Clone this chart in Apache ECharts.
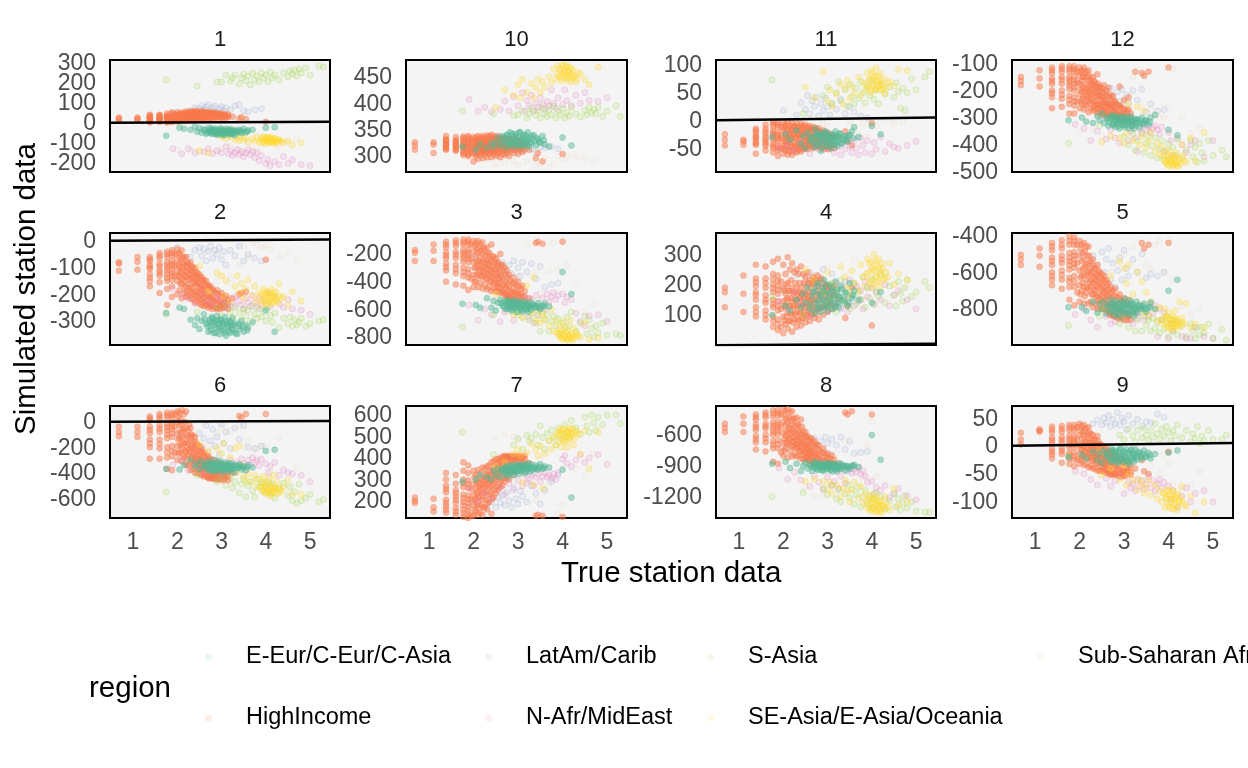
<!DOCTYPE html>
<html><head><meta charset="utf-8">
<style>html,body{margin:0;padding:0;background:#fff;overflow:hidden}#c{width:1248px;height:768px}</style>
<script src="https://cdn.jsdelivr.net/npm/echarts@6/dist/echarts.min.js"></script>
</head><body><div id="c"></div>
<script>
// x values: the true station value is the same in every panel
const xHigh=[.68,.68,.68,1.1,1.1,1.1,1.38,1.38,1.38,1.38,1.38,1.38,1.38,1.6,1.6,1.6,1.6,1.6,1.6,1.6,1.77,1.77,1.77,1.77,1.77,1.77,1.77,1.77,1.88,1.88,1.88,1.88,1.88,1.88,1.88,1.88,
2,2,2,2,2,2.05,2.05,2.05,2.05,2.1,2.1,2.1,2.1,2.1,2.15,2.15,2.15,2.15,2.2,2.2,2.2,2.2,2.2,2.25,2.25,2.25,2.25,2.3,2.3,2.3,2.3,2.3,2.35,2.35,2.35,2.35,2.4,2.4,2.4,2.4,2.4,2.45,2.45,2.45,2.45,
2.5,2.5,2.5,2.5,2.55,2.55,2.55,2.55,2.6,2.6,2.6,2.6,2.65,2.65,2.65,2.7,2.7,2.7,2.75,2.75,2.75,2.8,2.8,2.8,2.9,2.9,2.9,3,3,3.1,3.1,3.25,3.4,3.45,3.55,4,
1.38,1.38,1.38,1.6,1.6,1.6,1.77,1.77,1.77,1.77,1.88,1.88,1.88,1.88,
1.95,1.95,1.95,2.02,2.02,2.02,2.07,2.07,2.07,2.12,2.12,2.12,2.17,2.17,2.17,2.22,2.22,2.22,2.27,2.27,2.27,2.32,2.32,2.32,2.37,2.37,2.37,2.42,2.42,2.42,2.47,2.47,2.47,2.52,2.52,2.52,2.57,2.57,2.57,2.62,2.62,2.62,2.67,2.67,2.67,2.72,2.72,2.72,2.77,2.77,2.77,2.82,2.82,2.82,2.87,2.87,2.87,2.92,2.92,2.92,2.97,2.97,2.97,3.02,3.02,3.02,3.07,3.07,3.07,3.15,3.15,3.15];
const xEEur=[1.75,2.05,2.15,2.3,2.4,2.45,2.5,2.55,2.6,2.65,2.7,2.72,2.75,2.78,2.8,2.82,2.85,2.88,2.9,2.92,2.95,2.98,3,3.02,3.05,3.08,3.1,3.12,3.15,3.18,3.2,3.22,3.25,3.28,3.3,3.35,3.4,3.45,3.5,3.55,3.6,3.7,4,4.2,
2.62,2.68,2.74,2.76,2.8,2.84,2.87,2.9,2.94,2.97,3,3.03,3.07,3.1,3.14,3.17,3.2,3.24,3.27,3.32,3.38,3.42,3.48,3.58];
const xLat=[2,2.3,2.4,2.5,2.55,2.6,2.65,2.7,2.75,2.8,2.85,2.9,2.95,3,3.05,3.1,3.2,3.3,3.4,3.5,3.6,3.75,3.9];
const xMid=[1.9,2.1,2.25,2.4,2.6,2.7,2.8,2.9,3,3.1,3.15,3.2,3.25,3.3,3.35,3.4,3.45,3.5,3.55,3.6,3.65,3.7,3.75,3.8,3.85,3.9,4,4.05,4.1,4.2,4.3,4.4,4.5,4.6,4.8,5];
const xS=[1.75,2.45,2.9,3,3.1,3.2,3.25,3.3,3.4,3.45,3.5,3.55,3.6,3.65,3.7,3.75,3.8,3.85,3.9,3.95,4,4.05,4.1,4.15,4.2,4.3,4.4,4.5,4.55,4.6,4.65,4.7,4.75,4.8,4.9,5,5.2,5.3];
const xSea=[2.5,2.7,2.9,3,3.05,3.1,3.2,3.3,3.35,3.4,3.45,3.5,3.55,3.6,3.7,3.75,3.8,3.85,3.9,3.92,3.95,3.98,4,4.02,4.05,4.08,4.1,4.12,4.15,4.18,4.2,4.25,4.3,4.4,4.5,4.6,4.8,
3.88,3.94,3.97,4,4.03,4.06,4.09,4.11,4.14,4.16,4.19,4.22,4.24,4.27,4.32,4.36];
const xSub=[2,2.3,2.5,2.7,2.9,3,3.2,3.4,3.5,3.6,3.7,3.8,3.9,4,4.1,4.3,4.5,4.7];

// panel 1
const high1=[12,20,26,14,20,26,2,8,14,20,26,32,40,4,10,16,22,28,34,40,2,8,14,20,28,36,46,30,4,10,16,22,30,38,46,52,6,16,26,36,50,10,20,32,44,8,18,28,38,52,12,22,34,48,10,20,30,42,56,14,26,38,52,12,22,32,44,58,16,28,40,54,14,24,34,46,60,18,30,42,56,16,28,40,54,20,32,44,58,18,30,42,54,22,36,50,20,34,48,24,38,50,22,36,48,24,34,46,20,40,24,38,30,20,28,18,5,
11,23,35,13,25,37,5,17,24,32,7,19,26,34,14,28,42,12,26,40,15,28,42,13,25,44,17,30,44,15,28,48,19,33,46,17,30,50,21,35,48,19,32,52,23,36,50,21,35,48,25,38,52,24,37,50,27,40,53,26,40,50,28,42,52,28,40,50,28,38,48,29,40,46,28,38,44,26,34,46,28,36,42,28,34,42];
const eeur1=[-65,-25,-30,-35,-20,-45,-28,-50,-32,-55,-38,-25,-48,-30,-55,-40,-30,-50,-35,-60,-42,-28,-52,-35,-62,-44,-30,-52,-38,-60,-46,-32,-54,-40,-62,-48,-35,-52,-30,-48,-38,-35,-25,-22,
-38,-50,-42,-54,-36,-48,-58,-42,-52,-38,-46,-60,-40,-50,-44,-34,-54,-42,-50,-38,-46,-40,-44,-42];
const lat1=[55,60,75,70,85,65,80,90,60,75,85,55,70,80,60,75,65,85,90,60,55,65,70];
const mid1=[-130,-155,-130,-150,-145,-130,-155,-140,-150,-120,-155,-140,-165,-150,-135,-160,-145,-170,-150,-135,-160,-145,-175,-150,-190,-165,-205,-185,-215,-195,-210,-170,-205,-185,-210,-215];
const s1=[215,185,205,205,240,210,225,240,195,225,245,210,235,190,250,215,235,205,250,225,240,205,255,225,240,215,250,230,260,245,265,235,270,250,275,240,285,280];
const sea1=[-140,-150,-60,-70,-65,-80,-70,-85,-75,-90,-70,-85,-75,-95,-80,-90,-70,-100,-80,-95,-70,-105,-85,-75,-100,-90,-70,-95,-85,-105,-78,-95,-85,-100,-90,-110,-100,
-85,-75,-95,-80,-90,-72,-100,-85,-78,-95,-88,-80,-100,-90,-88,-95];
const sub1=[-135,-140,-145,-150,-140,-130,-120,-135,-150,-100,-125,-140,-110,-90,-80,-120,-100,-80];
// panel 10
const high10=[312,320,326,306,322,326,312,316,320,324,328,332,338,310,314,318,322,326,330,336,302,308,313,318,322,326,331,337,300,306,312,317,322,327,332,338,290,305,315,325,336,300,312,322,334,295,306,316,326,338,302,314,324,335,296,307,316,326,338,303,313,324,335,298,308,317,327,339,304,315,325,337,298,308,318,328,340,304,315,326,338,300,312,323,336,304,316,326,338,298,310,322,334,304,318,332,302,316,330,306,320,332,300,316,330,306,318,330,304,322,308,320,312,296,306,290,304,
314,322,330,312,320,328,305,316,324,334,303,314,325,335,308,320,332,310,320,330,306,318,328,310,321,332,308,319,330,311,321,332,308,318,330,312,322,333,309,320,331,312,323,334,309,320,332,312,322,332,308,320,331,314,324,334,310,322,330,311,323,334,312,322,330,310,322,332,312,324,332,312,322,328,314,324,332,312,318,328,314,322,330,312,318,326];
const eeur10=[318,312,322,316,325,318,326,335,320,338,328,316,340,322,332,345,325,318,338,328,342,320,335,325,345,318,332,340,322,336,328,345,318,335,325,340,320,332,325,338,322,318,335,320,
325,335,328,340,322,332,342,326,336,320,330,345,322,334,326,340,320,332,326,338,328,334,326,330];
const lat10=[305,312,320,308,325,315,310,322,306,318,326,312,320,308,316,310,322,314,306,318,316,318,314];
const mid10=[407,385,392,384,388,404,385,412,395,420,385,405,395,415,385,400,392,410,398,388,403,395,425,400,390,410,397,425,405,395,415,400,420,405,403,410];
const s10=[385,380,376,378,385,372,380,390,378,385,372,392,380,375,388,378,395,372,385,378,390,372,382,376,392,380,374,386,378,392,382,388,380,392,375,385,395,375];
const sea10=[392,425,415,435,410,445,420,437,410,430,445,420,440,430,450,438,465,445,470,450,460,442,472,455,462,445,468,452,460,440,465,450,440,455,445,435,468,
455,465,448,470,458,450,472,460,445,468,455,448,462,452,445,458];
const sub10=[298,295,285,288,290,284,290,282,285,295,280,285,300,295,300,298,298,290];
// panel 11
const high11=[-25,-35,-45,-35,-38,-44,-15,-22,-28,-33,-38,-44,-60,-8,-15,-24,-30,-38,-46,-54,-2,-10,-18,-26,-34,-42,-50,-58,-4,-12,-22,-30,-38,-46,-54,-64,-5,-18,-32,-46,-60,-8,-24,-38,-54,-3,-16,-30,-44,-62,-10,-26,-40,-56,-5,-18,-32,-46,-62,-10,-24,-40,-56,-6,-18,-30,-44,-58,-12,-26,-40,-54,-6,-18,-30,-42,-56,-10,-24,-38,-52,-8,-22,-36,-50,-12,-26,-38,-52,-10,-24,-36,-46,-14,-30,-46,-12,-28,-44,-16,-30,-42,-14,-28,-44,-18,-32,-46,-22,-40,-26,-44,-30,-20,-38,-45,-5,
-18,-30,-42,-20,-34,-42,-6,-22,-30,-46,-8,-26,-34,-50,-12,-28,-50,-14,-38,-52,-10,-30,-46,-22,-36,-54,-16,-32,-48,-12,-26,-52,-16,-32,-48,-12,-24,-50,-18,-34,-48,-12,-24,-48,-16,-30,-44,-14,-28,-44,-18,-32,-46,-16,-30,-42,-20,-36,-50,-18,-34,-48,-22,-36,-46,-20,-34,-48,-24,-38,-50,-22,-38,-52,-26,-36,-48,-28,-42,-52,-30,-40,-50,-30,-42,-50];
const eeur11=[-30,-25,-35,-18,-42,-28,-50,-22,-38,-32,-48,-15,-28,-44,-22,-36,-55,-26,-40,-32,-20,-46,-30,-38,-24,-50,-34,-28,-42,-20,-36,-46,-30,-24,-40,-34,-28,-38,-26,-20,-12,-30,-10,-25,
-30,-38,-24,-42,-30,-26,-48,-34,-22,-40,-28,-46,-32,-38,-26,-44,-30,-36,-24,-42,-30,-36,-28,-32];
const lat11=[18,10,32,20,45,12,35,25,42,8,30,18,40,25,10,30,20,38,12,25,15,8,5];
const mid11=[-50,-45,-55,-40,-60,-45,-52,-38,-50,-42,-58,-35,-48,-62,-40,-52,-30,-46,-58,-36,-50,-62,-32,-45,-58,-36,-60,-40,-52,-30,-56,-42,-48,-50,-45,-38];
const s11=[73,12,45,60,30,50,70,35,55,25,65,42,30,58,40,70,50,32,60,45,72,38,55,30,65,48,60,42,68,52,22,58,18,50,75,55,78,88];
const sea11=[60,40,88,35,55,25,48,65,30,58,72,40,62,50,78,45,68,55,85,60,72,50,90,65,78,55,95,68,80,55,72,60,48,70,62,92,90,
65,75,55,85,60,72,80,58,70,62,85,65,55,75,60,68];
const sub11=[-40,-48,-35,-20,-5,-10,-30,-20,-2,-15,-25,-5,-30,-2,-10,0,-5,-2];
// panel 12
const high12=[-150,-165,-180,-125,-155,-185,-115,-135,-155,-175,-200,-225,-265,-110,-130,-150,-175,-200,-230,-260,-110,-130,-150,-170,-195,-220,-250,-285,-110,-130,-150,-175,-200,-225,-255,-285,-115,-145,-175,-215,-265,-125,-165,-205,-250,-115,-150,-190,-225,-270,-130,-175,-215,-255,-125,-165,-205,-240,-280,-160,-195,-230,-265,-150,-180,-210,-240,-275,-170,-205,-240,-270,-140,-190,-220,-250,-285,-185,-220,-250,-280,-190,-225,-255,-290,-180,-225,-260,-285,-200,-240,-265,-295,-190,-250,-290,-215,-255,-295,-220,-260,-295,-240,-270,-300,-185,-255,-290,-235,-285,-225,-270,-130,-135,-145,-130,-115,
-125,-165,-210,-120,-160,-215,-120,-160,-182,-235,-120,-162,-188,-240,-130,-170,-240,-130,-195,-240,-150,-185,-230,-135,-205,-250,-150,-195,-235,-145,-185,-220,-175,-215,-250,-165,-195,-260,-185,-225,-255,-175,-205,-265,-200,-235,-265,-205,-240,-275,-210,-245,-275,-220,-250,-280,-225,-260,-285,-235,-265,-285,-240,-275,-290,-250,-280,-295,-255,-280,-300,-260,-285,-305,-265,-290,-305,-270,-295,-310,-275,-295,-310,-285,-300,-315];
const eeur12=[-310,-300,-315,-320,-295,-310,-285,-320,-300,-330,-305,-290,-325,-310,-335,-295,-320,-305,-340,-310,-295,-325,-315,-335,-300,-320,-340,-310,-295,-330,-315,-340,-305,-325,-310,-335,-300,-320,-310,-325,-300,-290,-345,-365,
-305,-318,-298,-325,-310,-300,-330,-315,-302,-328,-312,-300,-325,-315,-305,-330,-312,-322,-306,-318,-310,-324,-312,-316];
const lat12=[-165,-180,-210,-190,-235,-200,-255,-190,-225,-260,-205,-240,-195,-270,-215,-245,-200,-235,-195,-280,-250,-275,-270];
const mid12=[-325,-340,-385,-350,-380,-345,-375,-395,-325,-385,-350,-330,-375,-425,-340,-360,-325,-345,-335,-355,-340,-330,-345,-360,-335,-425,-355,-385,-440,-375,-400,-430,-400,-385,-445,-385];
const s12=[-395,-330,-320,-370,-400,-360,-420,-385,-355,-430,-395,-370,-440,-405,-375,-450,-415,-385,-455,-420,-395,-460,-410,-440,-380,-450,-420,-385,-445,-410,-465,-395,-430,-460,-385,-440,-420,-445];
const sea12=[-390,-370,-375,-395,-360,-250,-385,-260,-400,-370,-275,-410,-385,-355,-425,-395,-440,-410,-460,-430,-470,-445,-475,-420,-465,-440,-478,-450,-470,-430,-478,-455,-400,-465,-375,-460,-355,
-440,-465,-450,-478,-455,-440,-470,-460,-478,-445,-465,-478,-450,-470,-440,-460];
const sub12=[-350,-340,-370,-365,-280,-240,-150,-260,-350,-270,-290,-300,-300,-260,-120,-300,-360,-340];
// panel 2
const high2=[-80,-85,-112,-60,-78,-108,-60,-75,-90,-105,-125,-150,-170,-45,-65,-85,-110,-130,-155,-195,-40,-60,-80,-100,-125,-150,-180,-240,-35,-55,-75,-95,-120,-145,-170,-210,-30,-70,-110,-150,-200,-45,-95,-135,-185,-35,-80,-120,-160,-215,-60,-110,-150,-195,-60,-95,-135,-170,-210,-85,-125,-160,-205,-80,-110,-140,-175,-215,-100,-140,-175,-220,-100,-130,-160,-190,-230,-120,-155,-190,-225,-125,-160,-195,-235,-135,-170,-200,-240,-145,-180,-210,-245,-150,-195,-240,-165,-205,-250,-170,-210,-245,-180,-215,-255,-185,-220,-255,-195,-240,-205,-240,-215,-200,-195,-190,-70,
-68,-98,-138,-55,-95,-120,-50,-90,-112,-138,-45,-85,-108,-132,-50,-90,-130,-50,-90,-130,-70,-115,-160,-60,-100,-140,-85,-130,-175,-80,-115,-190,-105,-145,-185,-95,-125,-195,-120,-155,-200,-115,-145,-205,-135,-170,-210,-140,-178,-215,-150,-185,-220,-160,-195,-230,-170,-205,-225,-175,-210,-235,-185,-220,-240,-190,-225,-245,-195,-225,-250,-200,-235,-250,-205,-230,-255,-210,-235,-250,-215,-230,-250,-220,-235,-255];
const eeur2=[-270,-250,-255,-295,-315,-290,-330,-300,-275,-310,-340,-295,-320,-285,-305,-345,-300,-325,-280,-310,-350,-295,-320,-305,-335,-285,-355,-310,-325,-300,-345,-315,-290,-335,-310,-350,-320,-300,-340,-315,-325,-305,-260,-340,
-295,-320,-305,-335,-290,-315,-345,-300,-325,-295,-335,-310,-345,-300,-320,-340,-305,-330,-315,-345,-310,-330,-320,-335];
const lat2=[-25,-60,-35,-25,-55,-30,-75,-40,-20,-65,-35,-50,-25,-70,-40,-90,-35,-55,-20,-75,-50,-65,-75];
const mid2=[-180,-200,-215,-235,-200,-225,-240,-210,-220,-235,-250,-215,-230,-245,-205,-225,-240,-255,-215,-230,-245,-205,-230,-250,-215,-240,-225,-195,-245,-210,-235,-250,-220,-255,-260,-275];
const s2=[-275,-265,-250,-280,-240,-265,-285,-250,-270,-295,-255,-280,-260,-300,-245,-275,-290,-255,-285,-265,-300,-250,-280,-305,-270,-325,-290,-310,-285,-320,-295,-315,-305,-290,-320,-310,-300,-295];
const sea2=[-95,-190,-120,-130,-205,-150,-225,-170,-130,-195,-160,-215,-180,-145,-205,-170,-225,-195,-235,-205,-180,-220,-200,-240,-190,-225,-205,-180,-235,-210,-195,-225,-160,-210,-240,-190,-225,
-205,-225,-190,-215,-235,-200,-220,-195,-230,-205,-220,-190,-215,-230,-205,-215];
const sub2=[-120,-160,-180,-195,-150,-130,-140,-90,-20,-60,-5,-15,-25,-20,-30,-60,-45,-70];
// panel 3
const high3=[-170,-190,-250,-130,-175,-250,-110,-150,-190,-230,-270,-320,-400,-100,-140,-185,-230,-280,-340,-420,-95,-130,-170,-210,-255,-300,-360,-430,-95,-130,-170,-210,-260,-310,-370,-460,-105,-180,-260,-350,-440,-120,-210,-300,-400,-105,-190,-280,-360,-440,-125,-230,-320,-410,-115,-200,-290,-360,-450,-160,-260,-340,-420,-150,-240,-310,-380,-455,-190,-280,-360,-440,-130,-250,-330,-400,-470,-220,-310,-380,-450,-230,-310,-400,-470,-260,-340,-410,-475,-200,-320,-400,-480,-280,-380,-470,-300,-400,-490,-320,-420,-500,-350,-430,-510,-370,-450,-500,-400,-480,-430,-510,-520,-120,-110,-125,-110,
-130,-210,-295,-120,-205,-310,-115,-190,-230,-330,-110,-190,-235,-340,-130,-230,-380,-140,-300,-400,-165,-255,-350,-150,-250,-320,-180,-275,-365,-160,-245,-325,-210,-300,-380,-195,-275,-345,-235,-320,-400,-215,-290,-365,-265,-345,-415,-270,-355,-435,-300,-375,-440,-280,-360,-440,-330,-425,-480,-350,-445,-500,-370,-460,-510,-390,-470,-520,-410,-475,-520,-410,-480,-530,-430,-490,-530,-440,-500,-540,-450,-490,-530,-470,-510,-540];
const eeur3=[-560,-570,-590,-520,-590,-540,-610,-555,-530,-575,-540,-600,-560,-535,-585,-550,-610,-565,-535,-590,-555,-620,-570,-540,-595,-560,-615,-575,-545,-600,-565,-620,-580,-550,-605,-570,-590,-555,-600,-575,-560,-580,-330,-490,
-555,-580,-545,-595,-560,-580,-600,-550,-575,-590,-555,-585,-605,-565,-585,-560,-600,-575,-590,-565,-585,-575,-590,-580];
const lat3=[-220,-270,-320,-240,-290,-360,-260,-320,-380,-280,-340,-250,-400,-300,-360,-260,-330,-270,-380,-290,-440,-420,-410];
const mid3=[-570,-680,-600,-640,-690,-620,-590,-680,-540,-620,-510,-560,-660,-530,-700,-500,-640,-580,-520,-600,-490,-545,-510,-480,-530,-500,-490,-550,-510,-530,-630,-690,-720,-650,-640,-690];
const s3=[-730,-640,-620,-640,-660,-600,-680,-630,-700,-650,-760,-620,-680,-640,-760,-690,-650,-720,-670,-780,-700,-740,-660,-720,-620,-760,-700,-650,-780,-680,-740,-800,-720,-770,-700,-790,-780,-790];
const sea3=[-490,-540,-640,-620,-590,-660,-430,-630,-370,-680,-610,-700,-640,-670,-720,-600,-760,-680,-780,-720,-800,-750,-810,-690,-790,-730,-820,-760,-800,-680,-810,-740,-770,-800,-700,-820,-810,
-770,-800,-760,-820,-785,-805,-770,-825,-790,-810,-780,-825,-795,-810,-785,-800];
const sub3=[-430,-470,-520,-620,-450,-360,-130,-330,-490,-550,-320,-120,-320,-105,-280,-420,-620,-560];
// panel 4
const high4=[125,175,190,110,170,230,95,125,150,175,195,220,265,85,115,140,165,190,220,260,60,95,125,150,175,200,235,275,50,85,115,145,170,195,230,285,40,95,145,190,265,70,125,170,235,55,110,155,205,290,80,130,180,250,45,100,145,190,270,85,130,175,240,60,110,150,190,250,80,130,175,235,65,110,150,190,260,90,135,175,235,75,125,170,225,95,135,175,240,80,125,165,215,100,150,205,90,140,200,105,150,210,85,150,195,100,150,205,110,180,120,175,150,90,130,190,65,
110,165,208,100,150,205,80,135,188,218,70,130,182,212,60,120,210,80,130,180,95,150,200,80,130,180,105,155,215,75,125,170,105,150,205,85,130,170,105,155,205,90,130,170,110,155,205,100,150,195,115,155,205,105,145,190,125,175,225,115,165,215,125,180,230,120,170,215,125,170,220,130,175,190,125,160,195,135,155,195,140,160,190,130,165,195];
const eeur4=[100,130,115,150,125,170,140,190,120,160,105,180,140,205,125,165,110,190,145,215,130,175,115,155,200,135,180,120,165,210,140,185,125,160,195,145,175,130,205,155,180,150,140,175,
135,175,120,195,145,165,125,180,150,200,130,170,145,190,155,125,175,140,160,185,150,170,140,165];
const lat4=[185,230,165,215,130,240,155,205,120,225,170,250,135,195,150,235,180,125,210,160,200,150,190];
const mid4=[145,120,175,140,95,175,120,155,110,180,135,205,155,120,190,150,110,215,165,130,195,145,180,120,210,160,190,135,175,150,200,130,165,180,150,120];
const s4=[160,100,170,130,195,110,160,215,140,185,120,165,205,135,175,150,225,125,190,155,215,135,180,160,235,140,195,165,130,210,170,145,190,215,160,175,210,190];
const sea4=[250,215,175,240,155,205,180,260,150,225,190,165,245,205,180,265,225,195,285,240,210,275,190,250,300,225,265,205,285,240,190,255,220,270,200,235,215,
235,270,215,255,200,245,280,225,260,210,250,230,270,215,240,225];
const sub4=[215,170,130,230,175,260,140,215,165,280,190,150,230,240,170,240,200,190];
// panel 5
const high5=[-505,-530,-560,-470,-510,-570,-440,-480,-520,-560,-600,-640,-670,-425,-470,-510,-550,-590,-640,-690,-405,-450,-495,-540,-585,-630,-680,-750,-410,-450,-490,-530,-575,-620,-680,-780,-430,-510,-590,-670,-760,-450,-540,-620,-700,-440,-530,-610,-680,-770,-460,-560,-640,-710,-460,-550,-620,-690,-770,-540,-610,-680,-760,-530,-600,-660,-720,-790,-580,-640,-700,-770,-560,-620,-680,-730,-800,-600,-660,-720,-790,-610,-670,-730,-800,-620,-680,-740,-800,-640,-700,-750,-810,-660,-730,-810,-680,-740,-820,-700,-760,-820,-690,-770,-830,-720,-780,-830,-740,-830,-750,-840,-820,-440,-470,-450,-440,
-460,-540,-620,-450,-530,-615,-430,-520,-560,-650,-430,-510,-555,-650,-450,-550,-710,-470,-630,-720,-495,-580,-660,-485,-570,-730,-510,-600,-680,-510,-590,-655,-575,-645,-720,-565,-630,-695,-610,-670,-735,-590,-650,-755,-630,-690,-755,-640,-700,-765,-650,-710,-770,-670,-725,-780,-695,-770,-830,-710,-780,-835,-730,-790,-840,-730,-800,-845,-740,-800,-850,-750,-805,-855,-760,-810,-850,-770,-820,-860,-780,-830,-860,-790,-830,-860];
const eeur5=[-790,-790,-810,-760,-820,-770,-800,-760,-825,-780,-750,-810,-770,-835,-790,-755,-815,-775,-840,-795,-760,-820,-780,-745,-805,-770,-830,-785,-755,-815,-775,-840,-795,-760,-820,-785,-800,-770,-815,-790,-765,-800,-700,-640,
-785,-800,-770,-815,-780,-800,-825,-770,-790,-810,-775,-800,-825,-780,-800,-770,-815,-790,-805,-780,-795,-785,-800,-790];
const lat5=[-500,-510,-560,-490,-600,-530,-470,-640,-550,-680,-590,-520,-640,-480,-580,-620,-530,-600,-500,-630,-610,-620,-600];
const mid5=[-830,-800,-860,-900,-840,-880,-870,-800,-860,-830,-780,-880,-800,-850,-820,-780,-860,-800,-840,-770,-820,-780,-950,-800,-860,-820,-960,-880,-920,-870,-950,-960,-960,-900,-950,-960];
const s5=[-890,-840,-880,-850,-900,-830,-920,-860,-920,-840,-890,-860,-920,-850,-905,-870,-930,-860,-910,-840,-950,-880,-920,-860,-940,-890,-950,-880,-920,-960,-900,-940,-900,-930,-880,-960,-910,-970];
const sea5=[-800,-620,-540,-580,-660,-560,-720,-600,-780,-650,-820,-710,-830,-760,-800,-860,-790,-880,-840,-800,-900,-850,-880,-820,-910,-860,-840,-895,-810,-870,-900,-760,-850,-770,-900,-880,-900,
-860,-880,-840,-900,-855,-885,-865,-905,-850,-880,-890,-860,-875,-895,-870,-880];
const sub5=[-640,-720,-760,-600,-550,-500,-460,-440,-560,-580,-450,-430,-600,-420,-640,-780,-830,-800];
// panel 6
const high6=[-40,-80,-115,-40,-80,-120,40,10,-40,-90,-140,-200,-290,60,20,-30,-80,-140,-210,-290,70,30,-20,-70,-130,-200,-280,-370,70,30,-10,-60,-120,-190,-270,-380,80,0,-90,-190,-300,70,-30,-130,-240,90,-20,-120,-210,-310,60,-60,-170,-280,80,-50,-160,-240,-340,-70,-170,-260,-340,-50,-150,-240,-320,-380,-110,-210,-290,-370,-120,-200,-280,-340,-400,-180,-260,-330,-400,-190,-270,-340,-410,-210,-290,-350,-420,-240,-310,-370,-430,-260,-340,-420,-270,-350,-440,-290,-360,-430,-300,-380,-440,-310,-390,-440,-330,-430,-340,-430,-400,45,30,60,60,
25,-65,-170,40,-55,-175,50,-45,-100,-240,50,-35,-90,-230,60,-40,-240,40,-140,-250,20,-80,-185,-70,-165,-260,0,-115,-225,-105,-200,-290,-20,-120,-215,-100,-195,-280,-160,-250,-330,-160,-240,-310,-220,-295,-365,-230,-305,-375,-250,-320,-385,-275,-340,-400,-300,-380,-430,-310,-385,-445,-325,-395,-440,-340,-410,-450,-350,-415,-450,-350,-420,-455,-370,-420,-450,-380,-430,-460,-390,-425,-450,-395,-430,-460];
const eeur6=[-370,-375,-340,-300,-350,-320,-370,-310,-350,-330,-380,-310,-360,-330,-390,-340,-300,-370,-325,-385,-345,-310,-365,-335,-395,-350,-320,-375,-340,-385,-355,-325,-370,-345,-395,-360,-335,-375,-350,-380,-340,-360,-230,-220,
-345,-365,-330,-380,-340,-360,-385,-325,-350,-375,-330,-360,-380,-340,-365,-330,-375,-350,-365,-340,-360,-345,-360,-355];
const lat6=[-100,-120,-180,-90,-200,-130,-30,-240,-150,-60,-190,-120,-260,-20,-170,-80,-210,-50,-140,-30,-200,-210,-190];
const mid6=[-340,-300,-380,-340,-400,-310,-380,-350,-420,-330,-380,-300,-350,-400,-320,-360,-290,-330,-380,-300,-340,-285,-320,-300,-345,-295,-330,-400,-350,-320,-420,-380,-400,-410,-420,-470];
const s6=[-550,-420,-470,-440,-500,-430,-520,-470,-560,-490,-450,-590,-500,-470,-540,-590,-450,-510,-480,-550,-510,-470,-560,-490,-600,-520,-480,-580,-510,-620,-550,-640,-490,-620,-600,-570,-630,-610];
const sea6=[-180,-230,-210,-250,-170,-380,-280,-210,-400,-190,-340,-430,-470,-410,-470,-420,-510,-450,-540,-470,-430,-520,-560,-480,-540,-450,-580,-500,-550,-420,-520,-470,-560,-510,-460,-570,-570,
-510,-535,-490,-560,-520,-545,-500,-570,-525,-550,-510,-540,-565,-520,-530,-545];
const sub6=[-200,-120,-300,-180,-90,-50,-70,-40,-200,-150,-240,-210,-190,-200,-400,-130,-520,-360];
// panel 7
const high7=[190,200,215,150,170,210,145,175,205,240,270,300,330,135,165,190,220,250,280,320,125,160,195,230,265,300,340,380,120,155,190,225,260,295,330,365,130,180,230,280,340,150,210,260,320,135,190,240,285,345,145,220,275,330,135,205,260,300,355,170,240,295,350,160,225,280,320,360,195,265,315,365,140,240,295,340,380,215,280,330,385,235,295,345,395,250,310,355,395,265,320,365,400,270,340,405,290,350,410,305,360,405,300,365,410,320,375,405,340,400,350,400,375,130,135,130,125,
160,190,255,150,205,235,142,178,212,282,138,172,208,278,130,205,255,155,205,310,180,235,290,165,215,265,180,250,305,170,235,280,205,270,325,190,255,300,230,290,340,210,270,320,250,305,360,265,320,370,280,330,375,295,345,385,305,370,395,320,380,405,335,385,400,335,390,405,345,390,405,350,395,410,360,385,405,365,390,410,370,395,405,375,395,410];
const eeur7=[290,300,320,310,300,340,320,350,310,345,325,360,335,315,350,330,365,340,320,355,335,370,345,325,360,340,370,350,330,365,345,375,355,335,370,350,365,345,370,350,360,355,345,215,
340,350,330,360,340,352,365,335,350,360,340,355,365,345,358,335,362,350,358,345,355,348,358,352];
const lat7=[180,165,195,170,215,190,225,180,240,200,170,260,210,185,245,220,195,270,235,185,250,290,320];
const mid7=[260,200,240,210,260,230,280,250,295,270,320,285,300,320,270,310,325,290,315,330,310,320,305,325,300,330,395,410,375,360,390,415,380,400,415,370];
const s7=[520,415,460,490,440,505,475,490,510,460,550,495,440,515,480,530,495,460,540,510,485,555,520,495,575,540,510,590,550,520,600,565,530,590,555,600,600,560];
const sea7=[360,380,420,440,410,285,425,465,275,440,410,455,260,420,480,440,500,460,520,480,530,450,510,475,535,495,450,520,480,540,510,460,525,420,525,350,520,
505,525,490,535,510,480,520,500,530,495,515,535,505,490,520,510];
const sub7=[340,180,490,510,500,480,300,205,395,250,280,310,140,180,450,350,320,420];
// panel 8
const high8=[-490,-530,-570,-420,-490,-570,-400,-450,-500,-550,-610,-670,-740,-380,-430,-490,-540,-600,-670,-760,-360,-420,-480,-540,-600,-660,-730,-860,-360,-410,-470,-530,-590,-650,-730,-880,-355,-470,-580,-680,-800,-365,-500,-610,-730,-350,-480,-590,-690,-820,-380,-530,-640,-760,-370,-500,-620,-710,-810,-440,-570,-670,-790,-430,-550,-650,-730,-810,-510,-620,-710,-800,-450,-590,-680,-760,-830,-560,-660,-740,-830,-570,-680,-770,-840,-610,-700,-780,-840,-630,-720,-790,-850,-640,-750,-860,-660,-770,-860,-690,-790,-870,-700,-800,-880,-730,-820,-890,-780,-880,-800,-890,-880,-380,-400,-370,-400,
-425,-525,-640,-405,-515,-635,-390,-510,-570,-695,-385,-500,-560,-690,-400,-520,-770,-410,-640,-750,-440,-560,-670,-430,-540,-640,-460,-585,-700,-440,-560,-665,-505,-620,-730,-490,-600,-690,-565,-665,-755,-520,-635,-720,-610,-700,-785,-620,-725,-805,-655,-740,-810,-670,-755,-820,-695,-805,-880,-715,-815,-880,-740,-830,-890,-750,-840,-895,-770,-850,-900,-775,-855,-900,-800,-860,-900,-820,-870,-910,-830,-875,-905,-840,-880,-915];
const eeur8=[-880,-860,-920,-880,-950,-900,-870,-925,-890,-950,-860,-915,-880,-940,-900,-870,-925,-890,-950,-905,-875,-935,-895,-870,-920,-885,-955,-905,-880,-935,-895,-950,-910,-875,-930,-895,-945,-905,-930,-900,-890,-910,-600,-840,
-895,-915,-880,-930,-895,-915,-940,-885,-905,-925,-890,-915,-940,-895,-915,-885,-930,-905,-920,-895,-910,-900,-915,-905];
const lat8=[-710,-700,-760,-620,-720,-660,-780,-630,-700,-820,-660,-750,-620,-680,-790,-640,-700,-620,-740,-660,-780,-770,-760];
const mid8=[-920,-1030,-960,-1040,-1100,-1000,-1060,-1130,-1010,-1090,-1050,-960,-1120,-1000,-930,-1070,-950,-910,-970,-930,-960,-920,-980,-950,-1000,-1060,-1050,-1170,-1110,-1140,-1090,-1210,-1170,-1120,-1190,-1230];
const s8=[-1200,-1160,-1120,-1180,-1090,-1220,-1130,-1250,-1170,-1080,-1210,-1130,-1270,-1180,-1110,-1300,-1200,-1140,-1270,-1190,-1310,-1220,-1160,-1280,-1200,-1320,-1240,-1170,-1300,-1220,-1330,-1260,-1190,-1310,-1250,-1340,-1350,-1350];
const sea8=[-1050,-1030,-1050,-1130,-1060,-1170,-1090,-1200,-1120,-1040,-1150,-1250,-1130,-1060,-1210,-1100,-1260,-1170,-1310,-1210,-1340,-1260,-1180,-1320,-1230,-1350,-1280,-1200,-1340,-1250,-1350,-1290,-1200,-1330,-1120,-1280,-1250,
-1240,-1290,-1220,-1330,-1260,-1300,-1230,-1340,-1270,-1310,-1240,-1345,-1280,-1310,-1260,-1300];
const sub8=[-820,-1000,-1100,-1190,-1190,-1080,-780,-660,-380,-900,-1050,-1000,-700,-470,-1000,-1220,-1300,-1200];
// panel 9
const high9=[24,12,3,26,28,30,35,25,15,5,-5,-15,-22,36,26,16,6,-4,-14,-30,38,28,18,8,-2,-12,-22,-32,38,28,18,8,-2,-12,-24,-36,40,20,2,-14,-32,36,14,-6,-26,38,18,-2,-18,-34,32,8,-12,-32,34,14,-4,-20,-38,22,2,-16,-36,20,2,-12,-26,-40,12,-8,-22,-40,18,0,-16,-30,-44,4,-14,-28,-44,2,-16,-30,-44,-2,-18,-32,-46,-4,-20,-34,-48,-8,-26,-46,-10,-28,-50,-12,-30,-48,-14,-32,-50,-18,-34,-50,-24,-44,-28,-42,-40,-25,-45,-50,-10,
30,10,-10,31,11,-9,33,13,3,-17,33,13,3,-18,34,10,-24,28,-5,-24,25,4,-16,28,8,-10,20,-2,-22,24,5,-12,12,-7,-26,11,-5,-19,2,-15,-31,9,-8,-23,-5,-21,-36,-7,-23,-37,-10,-25,-39,-12,-27,-41,-17,-36,-50,-19,-37,-52,-21,-39,-50,-23,-41,-52,-26,-42,-52,-26,-42,-54,-30,-44,-54,-32,-46,-54,-34,-44,-50,-34,-46,-52];
const eeur9=[-20,-15,-22,-10,-25,-14,-30,-8,-20,-12,-28,-5,-18,-24,-8,-15,-30,-10,-22,-4,-16,-28,-10,-20,-6,-26,-14,-32,-8,-20,-14,-28,-6,-18,-24,-12,-22,-8,-18,-12,-22,-14,-12,-8,
-14,-22,-8,-26,-12,-20,-28,-6,-18,-24,-10,-20,-28,-12,-22,-6,-24,-14,-20,-10,-18,-14,-20,-16];
const lat9=[35,40,47,38,50,42,55,35,48,40,60,38,50,44,30,55,40,48,36,44,42,58,52];
const mid9=[-45,-50,-60,-70,-58,-72,-62,-55,-85,-65,-75,-68,-80,-60,-72,-62,-78,-68,-55,-75,-62,-80,-68,-60,-75,-65,-72,-95,-80,-110,-90,-75,-100,-85,-80,-100];
const s9=[-18,-8,20,12,30,18,8,28,15,32,20,10,28,16,40,22,12,30,18,35,24,10,28,18,38,15,28,8,22,14,35,5,18,10,28,12,12,20];
const sea9=[-52,-40,-60,-35,-70,-50,-62,-78,-60,-68,-85,-75,-62,-88,-70,-95,-80,-100,-85,-110,-92,-78,-102,-88,-112,-95,-80,-105,-92,-115,-85,-100,-72,-108,-90,-120,-100,
-85,-95,-80,-108,-90,-100,-82,-112,-95,-105,-88,-110,-98,-92,-100,-105];
const sub9=[-45,-40,-52,-30,-55,-30,-60,-25,-60,-35,-85,-50,-15,-30,-70,-75,-70,-45];

const xTicks=[1,2,3,4,5];
const refLineX=[0.48,5.45];
const ticks1=[300,200,100,0,-100,-200], ticks10=[450,400,350,300], ticks11=[100,50,0,-50], ticks12=[-100,-200,-300,-400,-500];
const ticks2=[0,-100,-200,-300], ticks3=[-200,-400,-600,-800], ticks4=[300,200,100], ticks5=[-400,-600,-800];
const ticks6=[0,-200,-400,-600], ticks7=[600,500,400,300,200], ticks8=[-600,-900,-1200], ticks9=[50,0,-50,-100];

const panelTable=[
 ['1',ticks1,-247,315,[high1,eeur1,lat1,mid1,s1,sea1,sub1]],
 ['10',ticks10,270,481.5,[high10,eeur10,lat10,mid10,s10,sea10,sub10]],
 ['11',ticks11,-93,109,[high11,eeur11,lat11,mid11,s11,sea11,sub11]],
 ['12',ticks12,-501,-87,[high12,eeur12,lat12,mid12,s12,sea12,sub12]],
 ['2',ticks2,-390,30,[high2,eeur2,lat2,mid2,s2,sea2,sub2]],
 ['3',ticks3,-860,-47,[high3,eeur3,lat3,mid3,s3,sea3,sub3]],
 ['4',ticks4,1,370,[high4,eeur4,lat4,mid4,s4,sea4,sub4]],
 ['5',ticks5,-996,-386,[high5,eeur5,lat5,mid5,s5,sea5,sub5]],
 ['6',ticks6,-755,123,[high6,eeur6,lat6,mid6,s6,sea6,sub6]],
 ['7',ticks7,120,642,[high7,eeur7,lat7,mid7,s7,sea7,sub7]],
 ['8',ticks8,-1407,-318,[high8,eeur8,lat8,mid8,s8,sea8,sub8]],
 ['9',ticks9,-129,72,[high9,eeur9,lat9,mid9,s9,sea9,sub9]]
];
const regionX=[xHigh,xEEur,xLat,xMid,xS,xSea,xSub];
const regionNames=['HighIncome','E-Eur/C-Eur/C-Asia','LatAm/Carib','N-Afr/MidEast','S-Asia','SE-Asia/E-Asia/Oceania','Sub-Saharan Africa'];
const regionRGB=['248,122,76','84,184,148','141,160,203','231,130,195','166,216,84','255,217,47','229,196,148'];
const regionFill=[.62,.6,.14,.2,.22,.3,.06];
const regionRing=[.36,.4,.3,.34,.4,.42,.18];
const drawOrder=[6,2,0,3,4,5,1];

const colLeft=[110,406,716,1012], colWidth=[220,221,220,221], rowTop=[60,233,406], panelH=112;
const FONT='"Liberation Sans",Arial,sans-serif';
const grids=[],xAxes=[],yAxes=[],series=[],titles=[];
panelTable.forEach((p,i)=>{
  const col=i%4,row=Math.floor(i/4);
  grids.push({left:colLeft[col],top:rowTop[row],width:colWidth[col],height:panelH,show:true,backgroundColor:'#F4F4F4',borderColor:'#000',borderWidth:2,z:1});
  xAxes.push({gridIndex:i,type:'value',min:refLineX[0],max:refLineX[1],
    axisLine:{show:false},axisTick:{show:false,customValues:xTicks},
    axisLabel:{show:row===2,customValues:xTicks,color:'#4D4D4D',fontSize:23,fontFamily:FONT,margin:13,hideOverlap:false},
    splitLine:{show:true,lineStyle:{color:'#E6E6E6',width:2}}});
  yAxes.push({gridIndex:i,type:'value',min:p[2],max:p[3],
    axisLine:{show:false},axisTick:{show:false,customValues:p[1]},
    axisLabel:{show:false,customValues:p[1]},
    splitLine:{show:true,lineStyle:{color:'#E6E6E6',width:2}}});
  titles.push({text:p[0],left:colLeft[col]+colWidth[col]/2,top:rowTop[row]-31,textAlign:'center',
    textStyle:{fontSize:22,fontWeight:'normal',color:'#1A1A1A',fontFamily:FONT},padding:0});
  drawOrder.forEach(r=>{
    const ys=p[4][r];
    series.push({name:regionNames[r],type:'scatter',xAxisIndex:i,yAxisIndex:i,symbolSize:6,clip:true,z:3,
      itemStyle:{color:`rgba(${regionRGB[r]},${regionFill[r]})`,borderColor:`rgba(${regionRGB[r]},${regionRing[r]})`,borderWidth:1},
      emphasis:{disabled:true},
      data:ys.map((y,k)=>[regionX[r][k],y]).filter(d=>d[0]!==undefined)});
  });
  series.push({type:'line',xAxisIndex:i,yAxisIndex:i,z:5,clip:true,silent:true,symbol:'none',
    lineStyle:{color:'#000',width:2.5},data:refLineX.map(v=>[v,v])});
});
const legendSpots=[[1,0,0],[0,0,1],[2,1,0],[3,1,1],[4,2,0],[5,2,1],[6,3,0]];
const legendLeft=[205,485,707,1037],legendTop=[645,706];
const legends=legendSpots.map(l=>({
  left:legendLeft[l[1]],top:legendTop[l[2]],orient:'horizontal',padding:0,itemWidth:7,itemHeight:7,selectedMode:false,
  data:[{name:regionNames[l[0]],icon:'circle',itemStyle:{color:`rgba(${regionRGB[l[0]]},.13)`,borderWidth:0,opacity:1}}],
  textStyle:{fontSize:23.5,fontFamily:FONT,color:'#000',padding:[0,0,0,29]}
}));
const staticText=[
   {type:'text',left:561,top:559,style:{text:'True station data',fontSize:29.5,fontFamily:FONT,fill:'#000'}},
   {type:'text',x:27,y:289,rotation:Math.PI/2,style:{text:'Simulated station data',fontSize:29.5,fontFamily:FONT,fill:'#000',align:'center',verticalAlign:'middle'}},
   {type:'text',left:89,top:674,style:{text:'region',fontSize:29.5,fontFamily:FONT,fill:'#000'}}
];
const chart=echarts.init(document.getElementById('c'),null,{renderer:'canvas',width:1248,height:768});
chart.setOption({
  animation:false,backgroundColor:'#fff',title:titles,grid:grids,xAxis:xAxes,yAxis:yAxes,series:series,legend:legends,tooltip:{show:false},
  graphic:staticText
});
// y tick labels sit closer together than ECharts allows (it would drop some), so place each from the axis scale
const yLabels=[];
panelTable.forEach((p,i)=>{
  p[1].forEach(v=>{
    yLabels.push({type:'text',x:colLeft[i%4]-14,y:chart.convertToPixel({yAxisIndex:i},v)+1,
      style:{text:String(v),fontSize:23,fontFamily:FONT,fill:'#4D4D4D',align:'right',verticalAlign:'middle'}});
  });
});
chart.setOption({graphic:staticText.concat(yLabels)});
</script></body></html>
